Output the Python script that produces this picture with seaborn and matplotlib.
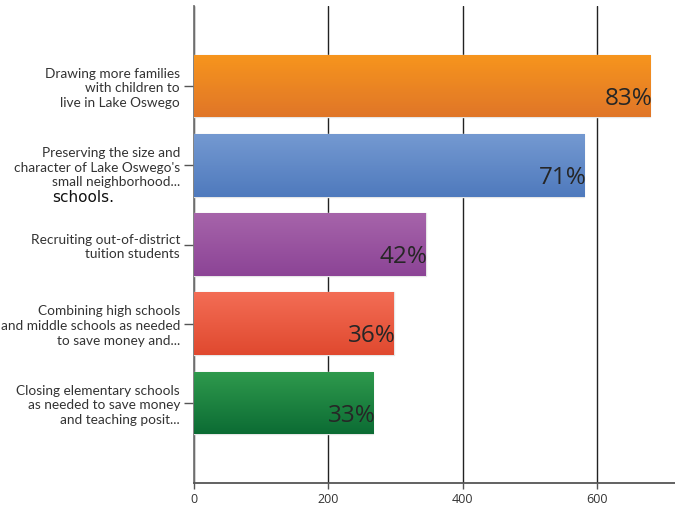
import numpy as np
import pandas as pd
import matplotlib
matplotlib.use("Agg")
import matplotlib.pyplot as plt
import seaborn as sns
from matplotlib.colors import LinearSegmentedColormap

# Data
labels = [
    "Drawing more families\nwith children to\nlive in Lake Oswego",
    "Preserving the size and\ncharacter of Lake Oswego's\nsmall neighborhood...",
    "Recruiting out-of-district\ntuition students",
    "Combining high schools\nand middle schools as needed\nto save money and...",
    "Closing elementary schools\nas needed to save money\nand teaching posit...",
]
counts = [679, 581, 345, 297, 267]
pct_labels = ["83%", "71%", "42%", "36%", "33%"]
top_colors = ["#f7951d", "#7499d1", "#a664aa", "#f36d55", "#2f9a4d"]
bottom_colors = ["#e07628", "#4f7abd", "#8c4496", "#e0492f", "#0c6c34"]
x_ticks = [0, 200, 400, 600]

df = pd.DataFrame({"label": labels, "count": counts})

sns.set_style("white")
plt.rcParams["font.family"] = ["Open Sans", "DejaVu Sans"]

fig = plt.figure(figsize=(6.75, 5.11), dpi=100)
ax = fig.add_axes([194 / 675, 1 - 483 / 511, 1 - 194 / 675, 477 / 511])

sns.barplot(data=df, x="count", y="label", hue="label", palette=top_colors,
            legend=False, orient="h", width=0.79, ax=ax, zorder=3,
            edgecolor="#e6e6e6", linewidth=1)

ax.set_xlim(0, 716)
ax.set_ylim(5.01, -1.01)

# vertical gradient fill clipped to each bar
for patch, c_top, c_bot in zip(ax.patches, top_colors, bottom_colors):
    x0, y0 = patch.get_x(), patch.get_y()
    w, h = patch.get_width(), patch.get_height()
    cmap = LinearSegmentedColormap.from_list("g", [c_top, c_bot])
    grad = np.linspace(0, 1, 64).reshape(-1, 1)
    im = ax.imshow(grad, cmap=cmap, aspect="auto",
                   extent=(x0, x0 + w, y0 + h, y0), zorder=3.5,
                   interpolation="bicubic")
    im.set_clip_path(patch)

ax.set_xlim(0, 716)
ax.set_ylim(5.01, -1.01)

# percent labels inside bars
for i, (v, t) in enumerate(zip(counts, pct_labels)):
    ax.text(v + 3, i + 0.16, t, ha="right", va="center", fontsize=17.5,
            color="#262626", zorder=5)

ax.set_xticks(x_ticks)
ax.grid(axis="x", color="#222222", linewidth=1, zorder=0)
ax.grid(axis="y", visible=False)
sns.despine(ax=ax, top=True, right=True)
ax.spines["left"].set_color("#777777")
ax.spines["bottom"].set_color("#555555")
ax.spines["left"].set_linewidth(1.3)
ax.spines["bottom"].set_linewidth(1.3)

ax.tick_params(axis="y", length=7, width=1, color="#555555", pad=3,
               labelsize=9.8, labelcolor="#333333", left=True)
ax.tick_params(axis="x", length=4, width=1, color="#555555", pad=3,
               labelsize=9, labelcolor="#333333", bottom=True)
for lbl in ax.get_yticklabels():
    lbl.set_linespacing(1.28)
    lbl.set_ha("right")
    lbl.set_family(["Lato", "DejaVu Sans"])

ax.set_xlabel("")
ax.set_ylabel("")

fig.text(52 / 675, 1 - 197 / 511, "schools.", fontsize=11, color="#111111",
         ha="left", va="center", family=["DejaVu Sans"])

fig.savefig("out.png", dpi=100)
